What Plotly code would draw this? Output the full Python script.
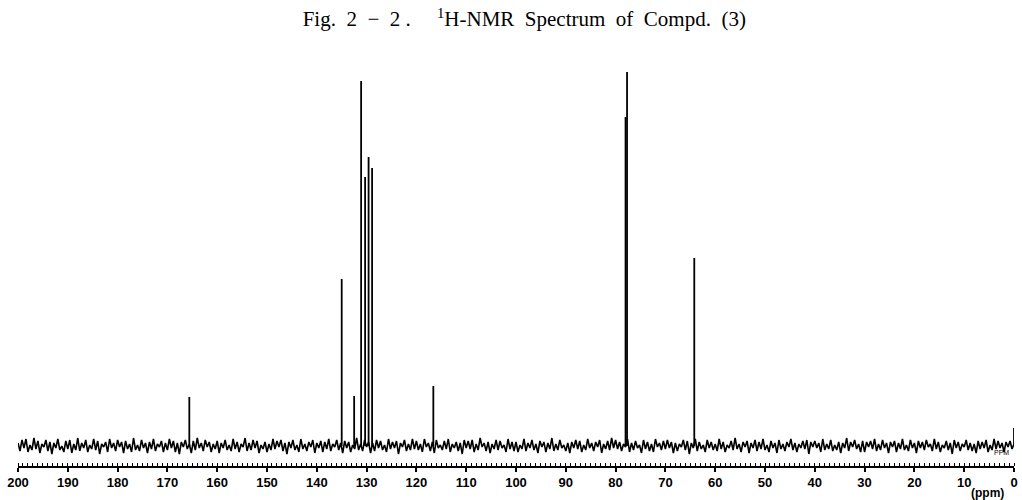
import numpy as np
import plotly.graph_objects as go

# Peak positions (ppm) and heights (arbitrary intensity units)
peak_ppm = [165.6, 135.0, 132.5, 131.1, 130.3, 129.6, 128.9, 116.6, 78.0, 77.7, 64.2, 0.0]
peak_int = [49, 167, 50, 365, 269, 289, 278, 60, 329, 374, 188, 18]

# Baseline noise read (approximately) along the spectrum, 200 -> 0 ppm
noise = [
    3,-5,6,-2,7,-6,1,-4,8,-3,5,-7,2,-1,6,-5,4,-8,3,-2,7,-4,0,-6,5,
    -3,6,-7,2,-4,8,-5,3,-2,6,-6,1,-3,7,-4,5,-8,2,-1,4,-6,7,-2,3,-5,
    6,-1,4,-7,5,-3,2,-6,8,-4,1,-5,6,-2,3,-7,4,-3,7,-5,2,-1,5,-6,3,
    -4,7,-2,5,-6,3,-8,4,-1,6,-3,2,-7,5,-4,8,-2,3,-5,6,-1,4,-6,2,-3,
    5,-7,3,-2,6,-4,1,-5,7,-3,4,-6,2,-1,8,-5,3,-4,6,-2,5,-7,1,-3,4,
    -6,2,-4,7,-3,5,-1,6,-5,3,-8,4,-2,6,-4,1,-6,7,-3,2,-5,4,-1,6,-7,
    3,-2,5,-6,4,-3,7,-5,2,-1,6,-4,3,-7,5,-2,4,-6,1,-3,8,-4,2,-5,6,
    -1,4,-7,3,-5,6,-2,5,-4,1,-6,7,-3,4,-2,5,-8,3,-1,6,-5,2,-4,7,-3,
    5,-4,2,-6,7,-1,3,-5,4,-7,6,-2,1,-4,5,-3,7,-6,2,-2,4,-5,3,-8,6,
    -2,5,-3,6,-6,2,-4,8,-1,3,-5,4,-7,2,-3,6,-4,5,-2,1,-6,7,-3,4,-5,
    4,-6,1,-3,7,-5,3,-2,6,-4,2,-7,5,-1,4,-6,3,-3,8,-5,2,-4,6,-2,1,
    -5,3,-7,4,-2,6,-3,5,-6,1,-4,7,-2,3,-5,4,-1,6,-7,2,-3,5,-4,8,-2,
    6,-3,4,-5,2,-1,7,-6,3,-4,5,-2,1,-7,6,-3,4,-5,2,-6,7,-1,3,-4,5,
    -3,6,-2,4,-7,3,-5,2,-1,6,-4,5,-8,3,-2,7,-5,4,-3,1,-6,6,-2,4,-4,
    2,-5,7,-3,4,-6,1,-2,5,-4,8,-3,2,-6,4,-1,5,-7,3,-2,6,-5,4,-3,7,
    -4,1,-6,5,-2,3,-7,6,-3,2,-5,4,-1,7,-4,3,-6,2,-2,5,-3,6,-8,4,-1,
    5,-2,3,-6,7,-4,2,-3,6,-5,1,-4,4,-7,3,-2,8,-5,4,-1,6,-3,2,-6,5,
    -6,4,-1,5,-3,7,-5,2,-4,6,-2,3,-7,4,-1,5,-6,3,-3,7,-4,1,-5,6,-2,
    3,-7,5,-2,4,-4,6,-1,2,-5,7,-3,4,-6,1,-2,5,-4,3,-8,6,-2,4,-5,2,
    -1,6,-4,3,-5,2,-7,5,-3,4,-2,6,-6,1,-4,7,-3,5,-2,3,-6,4,-1,5,-3,
    2,
]

tick_vals = list(range(200, -1, -10))
tick_text = [str(v) for v in tick_vals]

noise_ppm = np.linspace(200, 0, len(noise))

# vertical sticks for the peaks
px, py = [], []
for p, h in zip(peak_ppm, peak_int):
    px += [p, p, None]
    py += [0, h, None]

fig = go.Figure()
fig.add_trace(go.Scatter(x=noise_ppm, y=noise, mode="lines",
                         line=dict(color="black", width=1.6), hoverinfo="skip"))
fig.add_trace(go.Scatter(x=px, y=py, mode="lines",
                         line=dict(color="black", width=1.8), hoverinfo="skip"))

NB = "\u00a0"
title_text = (f"Fig.{NB}{NB}2{NB}{NB}−{NB}{NB}2{NB}.{NB}{NB}{NB}{NB}{NB}<sup>1</sup>H-NMR{NB}{NB}Spectrum"
              f"{NB}{NB}of{NB}{NB}Compd.{NB}{NB}(3)")

fig.update_layout(
    width=1022, height=500,
    margin=dict(l=18, r=4, t=58, b=34),
    paper_bgcolor="white", plot_bgcolor="white",
    showlegend=False,
    title=dict(text=title_text,
               x=0.513, xanchor="center", y=0.962, yanchor="middle",
               font=dict(family="Liberation Serif", size=21, color="black")),
    xaxis=dict(range=[200, 0], showgrid=False, zeroline=False,
               showline=True, linecolor="black", linewidth=1.5,
               tickmode="array", tickvals=tick_vals, ticktext=tick_text,
               ticks="outside", ticklen=4, tickwidth=1.5, tickcolor="black",
               minor=dict(dtick=1, ticks="inside", ticklen=3, tickwidth=1, tickcolor="black"),
               tickfont=dict(family="Liberation Sans", size=13, color="black", weight="bold")),
    yaxis=dict(range=[-20, 388], visible=False, showgrid=False, zeroline=False),
)

fig.add_annotation(x=5.4, xref="x", y=-0.066, yref="paper", yanchor="middle", text="<b>(ppm)</b>",
                   showarrow=False, font=dict(family="Liberation Sans", size=12, color="black"))
fig.add_annotation(x=2.6, xref="x", y=0.02, yref="paper", text="PPM",
                   showarrow=False, font=dict(family="Liberation Sans", size=7, color="black"))

fig.write_html("out.html")
